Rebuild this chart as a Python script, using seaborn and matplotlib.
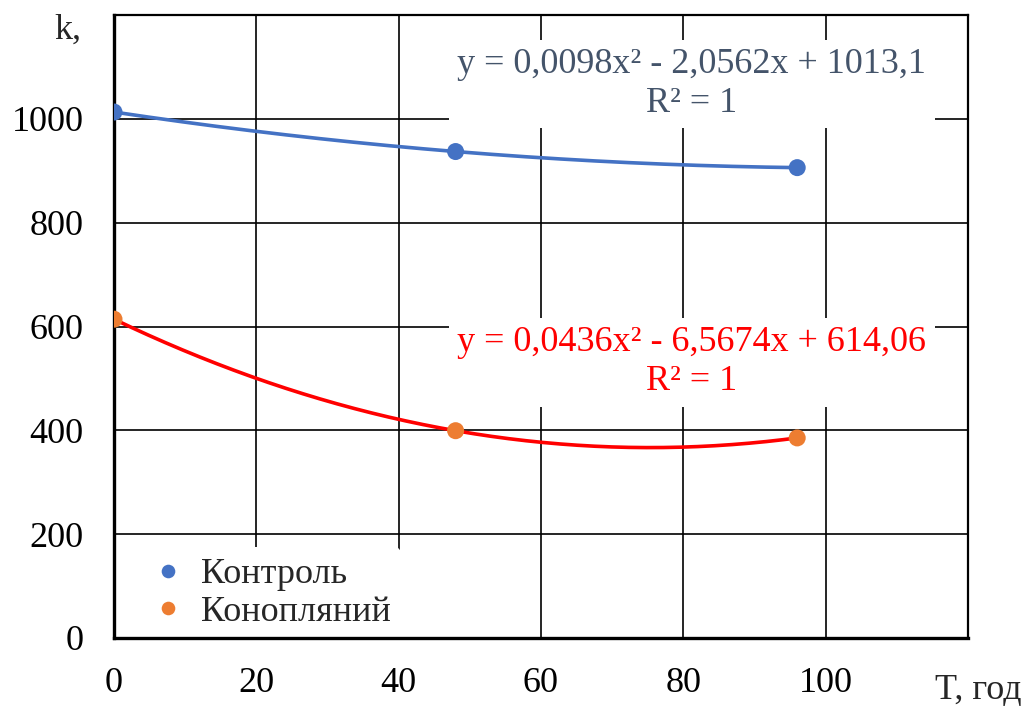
import numpy as np
import pandas as pd
import matplotlib
matplotlib.use("Agg")
import matplotlib.pyplot as plt
import seaborn as sns

# Data
t_hours = [0, 48, 96]
series_names = ["Контроль", "Конопляний"]
k_control = [1013.1, 937.0, 906.0]
k_hemp = [614.06, 399.3, 385.4]
x_tick_labels = ["0", "20", "40", "60", "80", "100", ""]
y_tick_labels = ["0", "200", "400", "600", "800", "1000", ""]
eq_control = "y = 0,0098x² - 2,0562x + 1013,1\nR² = 1"
eq_hemp = "y = 0,0436x² - 6,5674x + 614,06\nR² = 1"

marker_colors = {"Контроль": "#4472C4", "Конопляний": "#ED7D31"}
trend_colors = {"Контроль": "#4472C4", "Конопляний": "#FF0000"}

sns.set_theme(style="white")
plt.rcParams["font.family"] = ["Liberation Serif", "DejaVu Serif"]

FS = 26

df = pd.DataFrame({
    "T": t_hours * 2,
    "k": k_control + k_hemp,
    "series": [series_names[0]] * 3 + [series_names[1]] * 3,
})

# Quadratic trendlines fitted from data
rows = []
for name, vals in zip(series_names, [k_control, k_hemp]):
    coef = np.polyfit(t_hours, vals, 2)
    xs = np.linspace(min(t_hours), max(t_hours), 200)
    for xv, yv in zip(xs, np.polyval(coef, xs)):
        rows.append({"T": xv, "k": yv, "series": name})
trend = pd.DataFrame(rows)

fig = plt.figure(figsize=(10.29, 7.13), dpi=100)
ax = fig.add_axes([114 / 1029, 1 - 638 / 713, (968 - 114) / 1029, (638 - 15) / 713])

sns.lineplot(data=trend, x="T", y="k", hue="series", palette=trend_colors,
             linewidth=2.6, legend=False, ax=ax, zorder=3)
sns.scatterplot(data=df, x="T", y="k", hue="series", palette=marker_colors,
                s=150, edgecolor="none", ax=ax, zorder=4)

ax.set_xlim(0, 120)
ax.set_ylim(0, 1200)
ax.set_xticks(np.arange(0, 121, 20))
ax.set_xticklabels(x_tick_labels)
ax.set_yticks(np.arange(0, 1201, 200))
ax.set_yticklabels(y_tick_labels)
ax.tick_params(axis="both", length=0, labelsize=FS, colors="black")
ax.tick_params(axis="x", pad=21)
ax.tick_params(axis="y", pad=22)
ax.set_xlabel("")
ax.set_ylabel("")
ax.grid(True, color="black", linewidth=1.2)
ax.set_axisbelow(True)

for side in ["left", "bottom"]:
    ax.spines[side].set_linewidth(2.4)
    ax.spines[side].set_color("black")
for side in ["top", "right"]:
    ax.spines[side].set_linewidth(1.6)
    ax.spines[side].set_color("black")

ax.text(81.2, 1067, eq_control, ha="center", va="center", fontsize=FS,
        color="#44546A", linespacing=1.25, zorder=5,
        bbox=dict(facecolor="white", edgecolor="none", pad=6))
ax.text(81.2, 531, eq_hemp, ha="center", va="center", fontsize=FS,
        color="#FF0000", linespacing=1.25, zorder=5,
        bbox=dict(facecolor="white", edgecolor="none", pad=6))

fig.text(68 / 1029, 1 - 30 / 713, "k,", ha="center", va="center", fontsize=FS)
fig.text(978 / 1029, 1 - 690 / 713, "T, год", ha="center", va="center", fontsize=FS)

leg = ax.legend(loc="lower left", bbox_to_anchor=(0.0, -0.032), fontsize=FS,
                frameon=True, facecolor="white", edgecolor="none", framealpha=1,
                handlelength=1.4, handletextpad=0.2, borderpad=0.3,
                borderaxespad=0.5, labelspacing=0.12, markerscale=0.8)
leg.set_zorder(2.4)

fig.savefig("out.png", dpi=100)
